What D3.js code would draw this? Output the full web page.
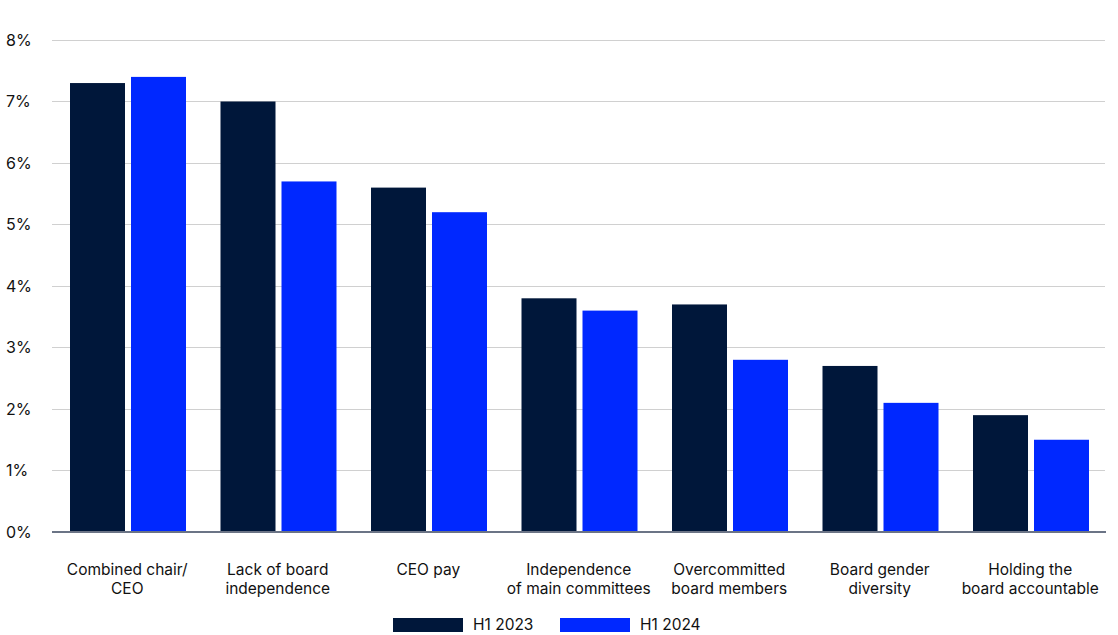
<!DOCTYPE html>
<html><head><meta charset="utf-8">
<script src="https://cdn.jsdelivr.net/npm/d3@7"></script>
<style>body{margin:0;background:#fff}svg{display:block;font-family:Inter,Roboto,sans-serif}</style>
</head><body><svg id="c" width="1118" height="635"></svg>
<script>
const categories = [["Combined chair/","CEO"],["Lack of board","independence"],["CEO pay"],["Independence","of main committees"],["Overcommitted","board members"],["Board gender","diversity"],["Holding the","board accountable"]];
const seriesNames = ["H1 2023","H1 2024"];
const h12023 = [7.3,7.0,5.6,3.8,3.7,2.7,1.9];
const h12024 = [7.4,5.7,5.2,3.6,2.8,2.1,1.5];
const yTicks = [0,1,2,3,4,5,6,7,8];
const colors = ["#00173a","#0028ff"];

const svg = d3.select("#c");
const x = d3.scaleBand().domain(d3.range(categories.length)).range([52,1105.5]).padding(0);
const y = d3.scaleLinear().domain([0,8]).range([532,40]);
const inner = d3.scaleBand().domain([0,1]).range([18, 134]).paddingInner(0.0984);

// grid
svg.append("g").selectAll("line").data(yTicks.filter(d=>d>0)).join("line")
  .attr("x1",52).attr("x2",1105).attr("y1",d=>y(d)).attr("y2",d=>y(d))
  .attr("stroke","#d0d0d0").attr("stroke-width",1).attr("shape-rendering","crispEdges");
// y labels
svg.append("g").selectAll("text").data(yTicks).join("text")
  .attr("x",6).attr("y",d=>y(d)).attr("dy","0.35em")
  .attr("font-size",16).attr("fill","#111").text(d=>d+"%");

const series = [h12023,h12024];
const g = svg.append("g");
series.forEach((vals,si)=>{
  g.selectAll(null).data(vals).join("rect")
    .attr("x",(d,i)=>x(i)+inner(si)).attr("width",inner.bandwidth())
    .attr("y",d=>y(d)).attr("height",d=>y(0)-y(d))
    .attr("fill",colors[si]);
});
// baseline
svg.append("line").attr("x1",52).attr("x2",1106).attr("y1",532).attr("y2",532)
  .attr("stroke","#6b7486").attr("stroke-width",2);

// category labels
const cl = svg.append("g").selectAll("text").data(categories).join("text")
  .attr("x",(d,i)=>x(i)+x.bandwidth()/2).attr("y",575)
  .attr("text-anchor","middle").attr("font-size",15.5).attr("fill","#111");
cl.selectAll("tspan").data(d=>d).join("tspan")
  .attr("x",function(){return this.parentNode.getAttribute("x");})
  .attr("dy",(d,i)=>i===0?0:19).text(d=>d);

// legend
const legX = [393,560];
const lg = svg.append("g").selectAll("g").data(seriesNames).join("g")
  .attr("transform",(d,i)=>`translate(${legX[i]},618)`);
lg.append("rect").attr("width",70).attr("height",14).attr("fill",(d,i)=>colors[i]);
lg.append("text").attr("x",80).attr("y",7).attr("dy","0.35em").attr("font-size",15.5).attr("fill","#111").text(d=>d);
</script></body></html>
